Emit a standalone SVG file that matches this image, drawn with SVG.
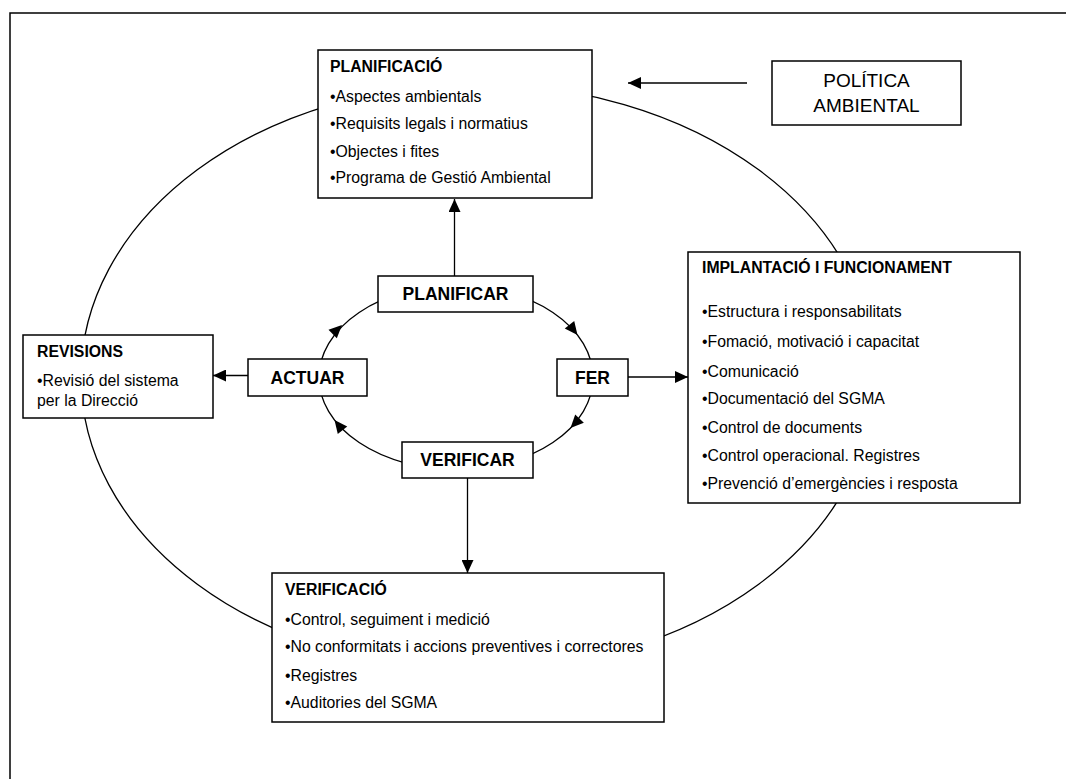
<svg xmlns="http://www.w3.org/2000/svg" xmlns:xlink="http://www.w3.org/1999/xlink" width="1066" height="779" viewBox="0 0 1066 779">
  <style>
    .box { fill: #fff; stroke: #000; stroke-width: 1.5; }
    .ring { fill: none; stroke: #000; stroke-width: 1.3; }
    .link { fill: none; stroke: #000; stroke-width: 1.3; }
    .frame { fill: none; stroke: #000; stroke-width: 1.5; }
    text { font-family: "Liberation Sans", Arial, sans-serif; fill: #000; }
    .title { font-weight: bold; font-size: 15.8px; }
    .item { font-size: 15.8px; }
    .step { font-weight: bold; font-size: 17.5px; text-anchor: middle; }
    .policy { font-size: 19px; text-anchor: middle; }
  </style>
  <defs>
    <marker id="arrow" markerUnits="userSpaceOnUse" markerWidth="14" markerHeight="12" refX="13" refY="6" orient="auto">
      <path d="M0,0 L13,6 L0,12 z" fill="#000"/>
    </marker>
    <path id="head" d="M0,0 L-13,-6 L-13,6 z" fill="#000"/>
  </defs>

  <rect width="1066" height="779" fill="#fff"/>
  <path class="frame" d="M10,779 V13 H1066"/>

  <!-- outer management cycle and inner PDCA cycle -->
  <g id="cycles">
    <ellipse class="ring" cx="478" cy="377" rx="397" ry="293"/>
    <ellipse class="ring" cx="456" cy="377.5" rx="137" ry="92"/>
  </g>

  <g id="planificacio">
    <rect class="box" x="318" y="50" width="274" height="148"/>
    <text class="title" x="330" y="72">PLANIFICACIÓ</text>
    <text class="item" x="330" y="102">•Aspectes ambientals</text>
    <text class="item" x="330" y="129">•Requisits legals i normatius</text>
    <text class="item" x="330" y="157">•Objectes i fites</text>
    <text class="item" x="330" y="183">•Programa de Gestió Ambiental</text>
  </g>

  <g id="politica">
    <rect class="box" x="772" y="61" width="189" height="64"/>
    <text class="policy" x="866.5" y="87">POLÍTICA</text>
    <text class="policy" x="866.5" y="112">AMBIENTAL</text>
  </g>

  <g id="revisions">
    <rect class="box" x="23" y="335" width="190" height="83"/>
    <text class="title" x="37" y="357">REVISIONS</text>
    <text class="item" x="37" y="386">•Revisió del sistema</text>
    <text class="item" x="37" y="406">per la Direcció</text>
  </g>

  <g id="planificar">
    <rect class="box" x="378" y="276" width="155" height="36"/>
    <text class="step" x="455.5" y="300">PLANIFICAR</text>
  </g>

  <g id="actuar">
    <rect class="box" x="248" y="359" width="119" height="37"/>
    <text class="step" x="307.5" y="383.5">ACTUAR</text>
  </g>

  <g id="fer">
    <rect class="box" x="557" y="359" width="71" height="37"/>
    <text class="step" x="592.5" y="383.5">FER</text>
  </g>

  <g id="verificar">
    <rect class="box" x="402" y="442" width="131" height="36"/>
    <text class="step" x="467.5" y="466">VERIFICAR</text>
  </g>

  <g id="implantacio">
    <rect class="box" x="688" y="252" width="332" height="251"/>
    <text class="title" x="702" y="273">IMPLANTACIÓ I FUNCIONAMENT</text>
    <text class="item" x="702" y="317">•Estructura i responsabilitats</text>
    <text class="item" x="702" y="347">•Fomació, motivació i capacitat</text>
    <text class="item" x="702" y="377">•Comunicació</text>
    <text class="item" x="702" y="404">•Documentació del SGMA</text>
    <text class="item" x="702" y="433">•Control de documents</text>
    <text class="item" x="702" y="461">•Control operacional. Registres</text>
    <text class="item" x="702" y="489">•Prevenció d’emergències i resposta</text>
  </g>

  <g id="verificacio">
    <rect class="box" x="272" y="573" width="392" height="149"/>
    <text class="title" x="285" y="595">VERIFICACIÓ</text>
    <text class="item" x="285" y="625">•Control, seguiment i medició</text>
    <text class="item" x="285" y="652">•No conformitats i accions preventives i correctores</text>
    <text class="item" x="285" y="681">•Registres</text>
    <text class="item" x="285" y="708">•Auditories del SGMA</text>
  </g>

  <g id="connectors">
    <line class="link" x1="747" y1="83" x2="628" y2="83" marker-end="url(#arrow)"/>
    <line class="link" x1="454.5" y1="276" x2="454.5" y2="199" marker-end="url(#arrow)"/>
    <line class="link" x1="628" y1="377" x2="688" y2="377" marker-end="url(#arrow)"/>
    <line class="link" x1="467.5" y1="478" x2="467.5" y2="573" marker-end="url(#arrow)"/>
    <line class="link" x1="248" y1="375.5" x2="213" y2="375.5" marker-end="url(#arrow)"/>
    <!-- clockwise direction marks on the inner cycle -->
    <use xlink:href="#head" transform="translate(342,325) rotate(-44)"/>
    <use xlink:href="#head" transform="translate(577.5,335) rotate(52)"/>
    <use xlink:href="#head" transform="translate(570.5,428) rotate(134)"/>
    <use xlink:href="#head" transform="translate(334.5,420) rotate(-128)"/>
  </g>
</svg>
